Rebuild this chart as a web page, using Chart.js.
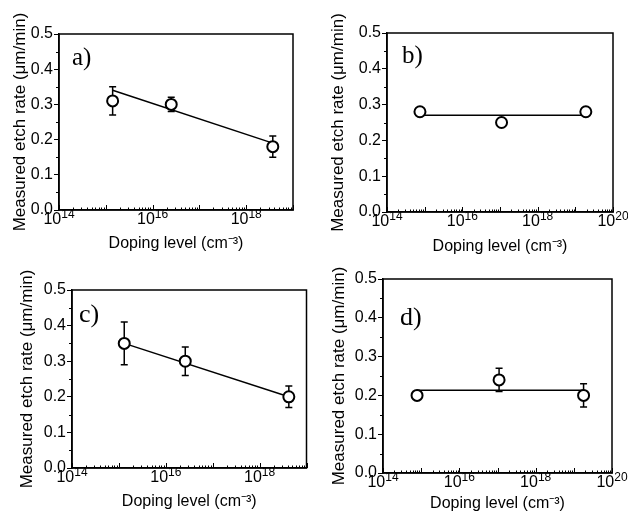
<!DOCTYPE html>
<html>
<head>
<meta charset="utf-8">
<script src="https://cdn.jsdelivr.net/npm/chart.js@4.4.0/dist/chart.umd.min.js"></script>
<style>
  html, body { margin: 0; padding: 0; background: #fff; overflow: hidden; }
  #wrap { position: relative; width: 628px; height: 514px; overflow: hidden; }
  canvas { position: absolute; }
</style>
</head>
<body>
<div id="wrap">
  <canvas id="chartA" width="314" height="270" style="left:0;top:0"></canvas>
  <canvas id="chartB" width="314" height="270" style="left:314px;top:0"></canvas>
  <canvas id="chartC" width="314" height="270" style="left:0;top:250px"></canvas>
  <canvas id="chartD" width="314" height="270" style="left:314px;top:250px"></canvas>
</div>
<script>
// panel labels
const panelLabels = ["a)", "b)", "c)", "d)"];

// doping level (cm-3) per sample
const dopingA = [1.4e15, 2.5e16, 3.7e18];
const dopingB = [7.5e14, 1.1e17, 1.9e19];
const dopingC = [1.3e15, 2.6e16, 4.2e18];
const dopingD = [7.8e14, 1.1e17, 1.8e19];

// measured etch rate (um/min)
const rateA = [0.31, 0.30, 0.18];
const rateB = [0.28, 0.25, 0.28];
const rateC = [0.35, 0.30, 0.20];
const rateD = [0.20, 0.24, 0.20];

// error bar half widths
const errA = [0.04, 0.02, 0.03];
const errB = [0, 0, 0];
const errC = [0.06, 0.04, 0.03];
const errD = [0, 0.03, 0.03];

// fitted line values at first and last doping level
const fitA = [0.34, 0.19];
const fitB = [0.27, 0.27];
const fitC = [0.35, 0.20];
const fitD = [0.213, 0.213];

// axis ranges and ticks
const xMinExp = 14;
const xMaxExpAC = 19;
const xMaxExpBD = 20;
const yTicks = [0.0, 0.1, 0.2, 0.3, 0.4, 0.5];

const sansFont = "'Liberation Sans', Arial, sans-serif";

// error bars drawn under the markers
const errorBarPlugin = {
    id: "errorBars",
    beforeDatasetsDraw(chart) {
        const { ctx, scales: { x, y } } = chart;
        const ds = chart.data.datasets[0];
        ctx.save();
        ctx.strokeStyle = "#000";
        ctx.lineWidth = 1.5;
        ds.data.forEach((p, i) => {
            const e = ds.errors[i];
            if (!e) return;
            const px = x.getPixelForValue(p.x);
            const top = y.getPixelForValue(p.y + e);
            const bot = y.getPixelForValue(p.y - e);
            ctx.beginPath();
            ctx.moveTo(px, top); ctx.lineTo(px, bot);
            ctx.moveTo(px - 3.5, top); ctx.lineTo(px + 3.5, top);
            ctx.moveTo(px - 3.5, bot); ctx.lineTo(px + 3.5, bot);
            ctx.stroke();
        });
        ctx.restore();
    }
};

// box frame, inward x ticks, minor ticks, power-of-ten labels and panel letter
const framePlugin = {
    id: "frame",
    afterDraw(chart, args, opts) {
        const { ctx, chartArea: a, scales: { x, y } } = chart;
        ctx.save();
        ctx.strokeStyle = "#000";
        ctx.lineWidth = 1.5;
        ctx.strokeRect(a.left, a.top, a.right - a.left, a.bottom - a.top);

        ctx.lineWidth = 1;
        ctx.beginPath();
        for (let e = xMinExp; e <= opts.maxExp; e++) {
            const px = Math.round(x.getPixelForValue(Math.pow(10, e))) + 0.5;
            ctx.moveTo(px, a.bottom);
            ctx.lineTo(px, a.bottom - 5);
            if (e === opts.maxExp) break;
            for (let m = 2; m <= 9; m++) {
                const mx = Math.round(x.getPixelForValue(m * Math.pow(10, e))) + 0.5;
                ctx.moveTo(mx, a.bottom);
                ctx.lineTo(mx, a.bottom - 2.5);
            }
        }
        for (let i = 0; i < yTicks.length - 1; i++) {
            const py = Math.round(y.getPixelForValue(yTicks[i] + 0.05)) + 0.5;
            ctx.moveTo(a.left - 3, py);
            ctx.lineTo(a.left, py);
        }
        ctx.stroke();

        // x tick labels as 10 with a raised exponent
        ctx.fillStyle = "#000";
        ctx.textBaseline = "alphabetic";
        ctx.textAlign = "left";
        for (let e = xMinExp; e <= opts.maxExp; e += 2) {
            const px = x.getPixelForValue(Math.pow(10, e));
            ctx.font = "16px " + sansFont;
            const wBase = ctx.measureText("10").width;
            ctx.font = "12px " + sansFont;
            const wExp = ctx.measureText(String(e)).width;
            const x0 = px - (wBase + wExp) / 2;
            ctx.font = "16px " + sansFont;
            ctx.fillText("10", x0, a.bottom + 14);
            ctx.font = "12px " + sansFont;
            ctx.fillText(String(e), x0 + wBase, a.bottom + 8);
        }

        ctx.font = opts.letterSize + "px 'Liberation Serif', 'Times New Roman', serif";
        ctx.fillText(opts.label, a.left + opts.dx, a.top + opts.dy);
        ctx.restore();
    }
};

function makeChart(id, doping, rate, err, fit, maxExp, label, box) {
    const ctx = document.getElementById(id).getContext("2d");
    const W = 314, H = 270;

    return new Chart(ctx, {
        type: "scatter",
        data: {
            datasets: [{
                data: doping.map((d, i) => ({ x: d, y: rate[i] })),
                errors: err,
                pointRadius: 5.5,
                pointHoverRadius: 5.5,
                pointBorderWidth: 2,
                pointBackgroundColor: "#fff",
                pointBorderColor: "#000",
                showLine: false
            }, {
                data: [
                    { x: doping[0], y: fit[0] },
                    { x: doping[doping.length - 1], y: fit[1] }
                ],
                showLine: true,
                borderColor: "#000",
                borderWidth: 1.5,
                pointRadius: 0,
                fill: false
            }]
        },
        options: {
            responsive: false,
            animation: false,
            devicePixelRatio: 1,
            layout: {
                padding: { left: 0, top: box.top, right: W - box.right, bottom: 0 }
            },
            plugins: {
                legend: { display: false },
                tooltip: { enabled: false },
                frame: { label: label, dx: box.dx, dy: box.dy, letterSize: box.letter, maxExp: maxExp }
            },
            scales: {
                x: {
                    type: "logarithmic",
                    min: Math.pow(10, xMinExp),
                    max: Math.pow(10, maxExp),
                    afterFit: (scale) => { scale.height = H - box.bottom; },
                    ticks: { display: false },
                    grid: { display: false, drawTicks: false },
                    border: { color: "#000", width: 1.5 },
                    title: {
                        display: true,
                        text: "Doping level (cm⁻³)",
                        color: "#000",
                        font: { family: sansFont, size: 16 },
                        padding: { top: 0, bottom: box.xTitlePad }
                    }
                },
                y: {
                    min: 0,
                    max: 0.5,
                    afterBuildTicks: (scale) => {
                        scale.ticks = yTicks.map(v => ({ value: v }));
                    },
                    afterFit: (scale) => { scale.width = box.left; },
                    ticks: {
                        padding: 1,
                        color: "#000",
                        font: { family: sansFont, size: 16 },
                        callback: (v) => v.toFixed(1)
                    },
                    grid: { drawOnChartArea: false, tickLength: 5, color: "#000", lineWidth: 1 },
                    border: { color: "#000", width: 1.5 },
                    title: {
                        display: true,
                        text: "Measured etch rate (μm/min)",
                        color: "#000",
                        font: { family: sansFont, size: 17 },
                        padding: { top: box.yTitlePad, bottom: 0 }
                    }
                }
            }
        },
        plugins: [errorBarPlugin, framePlugin]
    });
}

makeChart("chartA", dopingA, rateA, errA, fitA, xMaxExpAC, panelLabels[0],
    { left: 59, right: 293, top: 34, bottom: 210, dx: 13, dy: 31, letter: 25, xTitlePad: 17, yTitlePad: 10 });
makeChart("chartB", dopingB, rateB, errB, fitB, xMaxExpBD, panelLabels[1],
    { left: 73, right: 299, top: 33, bottom: 212, dx: 15, dy: 30, letter: 25, xTitlePad: 14, yTitlePad: 14 });
makeChart("chartC", dopingC, rateC, errC, fitC, xMaxExpAC, panelLabels[2],
    { left: 72, right: 309, top: 40, bottom: 218, dx: 7, dy: 32, letter: 26, xTitlePad: 9, yTitlePad: 17 });
makeChart("chartD", dopingD, rateD, errD, fitD, xMaxExpBD, panelLabels[3],
    { left: 69, right: 298, top: 29, bottom: 223, dx: 17, dy: 46, letter: 26, xTitlePad: 7, yTitlePad: 15 });
</script>
</body>
</html>
